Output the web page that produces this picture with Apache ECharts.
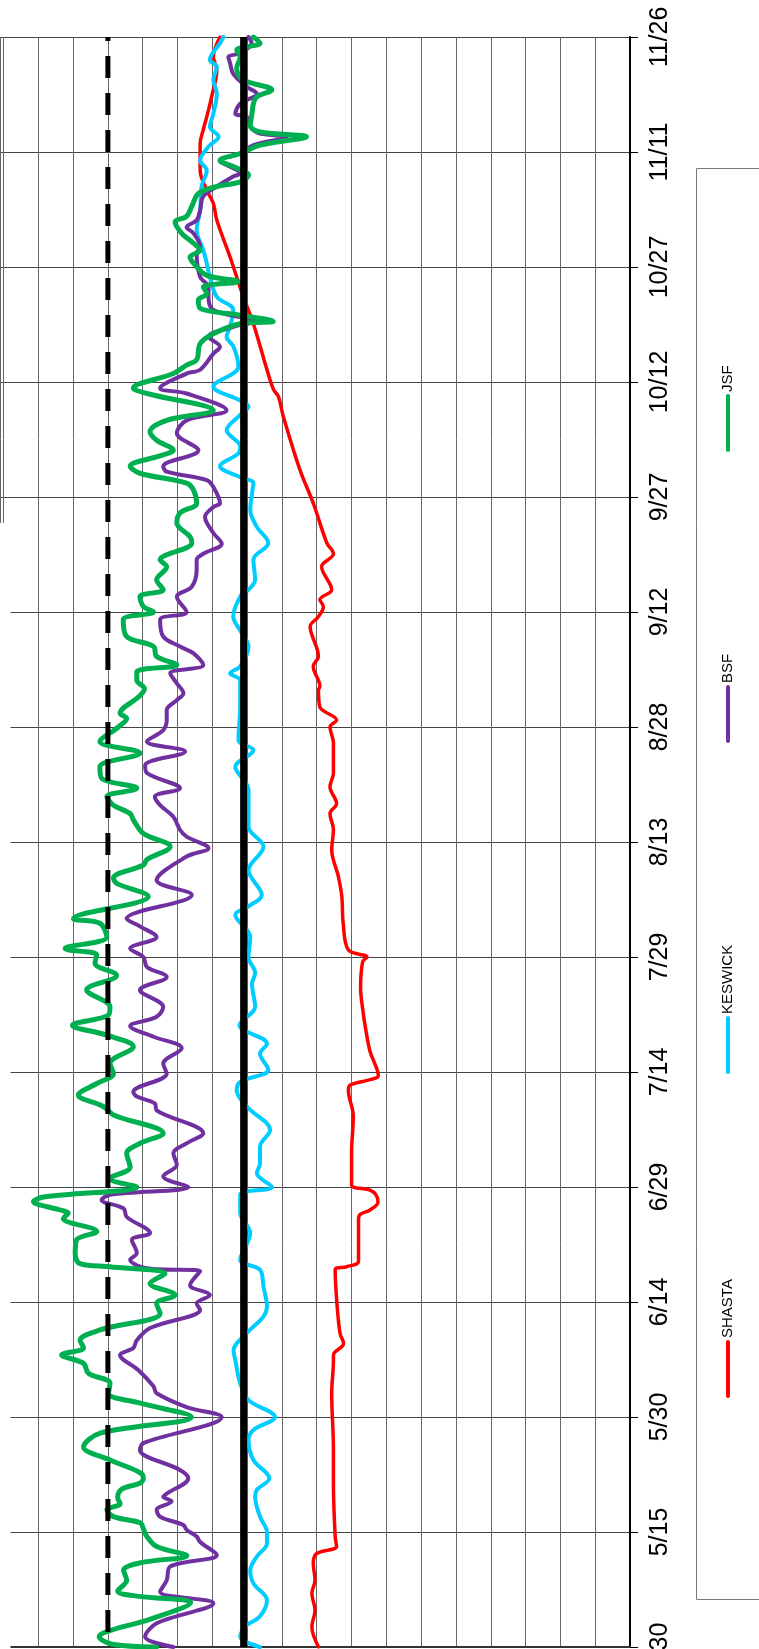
<!DOCTYPE html>
<html><head><meta charset="utf-8">
<script src="https://cdn.jsdelivr.net/npm/echarts@6/dist/echarts.min.js"></script>
<style>html,body{margin:0;padding:0;background:#fff;overflow:hidden;}#c{width:759px;height:1710px;}</style>
</head><body><div id="c"></div><script>
// date tick labels (every 15 days starting 4/30)
const tickLabels = ['4/30','5/15','5/30','6/14','6/29','7/14','7/29','8/13','8/28','9/12','9/27','10/12','10/27','11/11','11/26'];
const seriesNames = ['SHASTA','KESWICK','BSF','JSF'];
const seriesColors = ['#FF0000','#00CCFF','#7030A0','#00B050'];
// [days after 4/30, temperature]
const SHASTA = [[0,53.95],[2.65,54.14],[4.8,54.05],[7,54.14],[8.7,54.05],[10.9,54.1],[12.2,54.0],[13.1,53.43],[14.4,53.47],[21.3,53.52],[25.7,53.52],[33.1,53.57],[37.4,53.52],[38.1,53.52],[39.6,53.23],[40.9,53.33],[44.8,53.42],[49.2,53.47],[49.6,53.14],[50.3,52.8],[55.7,52.8],[56.4,52.76],[57,52.47],[58,52.24],[59,52.3],[59.6,52.47],[60.3,53.0],[64.4,53.0],[69.2,52.95],[72.6,53.09],[73.3,53.04],[74,52.47],[74.5,52.23],[77.7,52.47],[80.5,52.59],[83.2,52.68],[86,52.74],[89.4,52.68],[90,52.56],[90.9,53.09],[94.4,53.24],[97.9,53.28],[100.5,53.38],[104,53.57],[106.6,53.52],[108.7,53.62],[110,53.43],[112.2,53.62],[114,53.52],[117.9,53.52],[120,53.62],[120.9,53.43],[122.6,53.91],[124.8,53.95],[125.3,53.91],[127.9,54.1],[129.2,53.95],[133.1,54.19],[134.4,53.95],[135.7,53.81],[136.6,53.91],[137.9,53.57],[140.9,53.86],[142.6,53.52],[144,53.71],[149.2,54.1],[153.5,54.48],[160.5,54.96],[163.1,55.1],[164,55.24],[166.6,55.43],[172.6,55.82],[176.1,56.11],[181.3,56.49],[186.1,56.87],[188.3,56.97],[189.6,57.11],[192.6,57.35],[196.1,57.35],[197.9,57.26],[199.6,57.16],[202.2,57.02],[205.7,56.87],[207.4,56.97],[210,56.78]];
const KESWICK = [[0,55.63],[1.35,56.2],[2.65,56.06],[4,55.63],[6.1,55.43],[8.3,55.82],[10,55.91],[11.8,55.72],[13.5,55.43],[15,55.43],[17,55.63],[19.6,55.77],[20.5,55.72],[22,55.36],[24.4,55.82],[27,55.96],[28.3,55.82],[30,55.2],[32.2,55.96],[34.4,56.2],[37.4,56.34],[38.7,56.39],[39.6,56.3],[41.4,55.91],[43.1,55.53],[44.4,55.43],[47,55.53],[49.2,55.63],[50.5,56.2],[54,55.91],[56.6,56.2],[59,56.2],[60,55.29],[61.8,55.72],[63.1,55.63],[65.3,55.63],[67.4,55.34],[70.5,56.01],[72.6,56.3],[73.7,56.2],[75.3,55.39],[77.4,55.63],[78.7,55.43],[81.1,56.22],[83.5,55.77],[86.5,55.86],[87.9,55.77],[90,55.96],[92.6,55.91],[95.5,56.34],[96.6,55.96],[98.1,55.58],[101.3,55.96],[104.4,55.53],[107,55.96],[111.8,55.96],[114.8,56.34],[117,55.82],[118.3,56.25],[122.6,56.2],[124,56.2],[126.1,56.2],[127,56.49],[127.9,56.2],[130.5,55.96],[132.6,56.2],[134.4,56.4],[137.4,56.15],[137.9,55.96],[139.2,55.77],[141.8,55.82],[144,55.39],[146.1,55.72],[148.3,55.91],[150.5,55.86],[151.8,55.82],[152.6,56.2],[154,56.78],[155.7,56.25],[156.6,56.2],[158.7,56.59],[160.7,56.2],[161.8,55.96],[162.6,56.2],[164.4,56.97],[167,56.25],[169.6,56.39],[170.9,56.59],[172.2,56.49],[174.4,56.4],[176.1,56.87],[178.7,57.07],[180.5,57.16],[182.2,57.26],[184.8,57.45],[187.4,57.35],[190.5,57.31],[192.6,57.16],[193.9,57.35],[195.7,57.11],[197,56.82],[198.3,57.07],[200,56.97],[202.6,56.87],[204.4,56.97],[206.1,56.87],[207,57.07],[209.2,56.78],[210,56.68]];
const BSF = [[0,58.12],[1.35,58.93],[3.1,58.6],[5.7,56.97],[7.2,58.5],[8.7,58.31],[10.5,58.21],[12,56.87],[13.7,57.35],[14.4,57.45],[15.3,57.74],[15.9,57.83],[17,58.5],[17.9,58.6],[19,58.17],[19.6,58.41],[20,58.31],[22,57.69],[23.1,57.93],[25.7,59.08],[26.6,58.98],[30,56.73],[31.3,57.74],[33.1,58.6],[34,58.69],[36.1,59.12],[38.1,59.65],[39,59.27],[40,59.17],[41.6,58.79],[44,57.35],[44.8,57.45],[45.9,57.07],[47.2,57.64],[49,57.35],[49.4,58.88],[50.5,59.36],[51.4,59.17],[53.1,59.31],[54,58.79],[56.1,59.46],[57.2,59.55],[58.3,60.18],[59,59.94],[60,57.69],[61.4,58.41],[62.9,58.02],[64.4,58.12],[65.7,57.74],[67,57.26],[70,58.6],[70.9,58.65],[71.8,59.17],[72.4,59.27],[74.8,58.31],[76.1,58.41],[78.1,57.88],[79.6,58.69],[81,59.36],[82.2,58.6],[83.5,58.41],[85.7,59.08],[87.4,58.31],[88.7,58.88],[90,58.98],[91.1,59.36],[92.6,58.6],[94,59.08],[95,59.46],[98.1,57.59],[100,58.6],[103.1,57.74],[104.2,57.11],[105.7,57.74],[106.6,57.93],[108.3,58.12],[109.8,58.5],[110.9,58.65],[112,57.93],[114,58.88],[115,58.93],[116.8,57.78],[118.1,58.88],[119.6,58.41],[120.9,58.31],[122.2,58.31],[123.5,58.02],[124.4,57.83],[125.7,58.02],[127,58.21],[128.1,57.26],[129.6,57.54],[130.5,57.93],[131.8,58.41],[134,58.5],[135,57.74],[137,58.02],[138.3,57.59],[140.5,57.45],[141.8,57.45],[142.6,57.26],[143.9,56.73],[145.3,56.97],[147.4,57.21],[148.7,56.97],[149.2,56.78],[151.3,56.97],[152.2,57.16],[153.3,58.31],[154,58.41],[156.1,57.4],[158.3,58.02],[160,57.74],[161.3,56.59],[163.5,57.74],[164.2,58.5],[166.1,57.74],[166.6,57.35],[168.7,56.97],[169.6,56.78],[170.9,57.11],[172.2,56.4],[172.9,55.82],[174.4,56.97],[176.1,57.11],[177.4,57.11],[178.7,57.35],[181.8,57.45],[182.6,57.35],[184.4,57.54],[185.2,57.74],[186.1,57.45],[187.4,57.35],[189.2,57.26],[190.5,56.87],[191.8,56.4],[192.2,56.2],[193.9,56.78],[194.8,56.2],[195.9,55.82],[197,54.86],[197.4,55.63],[198.3,55.91],[199.6,56.01],[200,56.34],[201.3,56.2],[202.6,55.72],[203.5,56.01],[205.2,56.4],[206.6,56.49],[207.4,56.54],[207.9,56.2],[209.2,55.87],[210,55.96]];
const JSF = [[0,58.6],[0.4,59.9],[1.35,60.25],[2.2,59.9],[3.6,58.8],[5.8,57.62],[6.6,59.1],[7.3,59.72],[8.7,59.46],[10,59.55],[11,59.05],[11.9,57.73],[13.1,58.6],[14.4,58.88],[15.4,58.98],[16.2,59.07],[17,59.84],[17.9,60.03],[18.7,59.65],[19.5,59.72],[20.6,59.6],[21.4,59.07],[22.1,58.98],[22.8,59.1],[24.4,59.94],[26.1,60.7],[27.9,60.22],[30,57.6],[31.8,59.07],[33.1,59.98],[34.4,59.94],[35.7,60.56],[37,60.7],[38.1,61.33],[39,60.7],[40,60.8],[41.35,60.23],[43.5,58.5],[44.8,58.6],[45.9,58.07],[47.4,58.79],[48.7,58.36],[49.6,59.94],[50,60.8],[51.3,60.94],[53.1,60.9],[54.2,60.32],[55.9,61.28],[56.6,61.14],[57,61.37],[58.1,62.14],[58.7,61.85],[60,59.17],[61.1,59.94],[62.6,59.36],[64.4,59.46],[65.7,59.07],[67,58.41],[69.4,59.84],[70.5,60.13],[72,60.85],[73.5,60.32],[74.8,59.84],[76.1,59.94],[78.3,59.27],[79.8,60.03],[81.1,61.02],[82.4,59.99],[83.5,59.94],[85.7,60.61],[87.6,59.75],[89.2,60.37],[90.3,60.32],[91.1,61.23],[92.6,60.03],[94.4,60.23],[95,60.99],[97.9,58.84],[99.6,59.75],[100.3,59.84],[102,58.98],[102.7,58.88],[104.4,58.21],[106.1,58.98],[107.9,59.27],[108.7,59.36],[109.8,59.84],[110.9,60.03],[112,59.17],[113.3,60.18],[114.8,60.23],[116.6,59.08],[118.1,60.23],[120,59.7],[121.1,59.46],[121.8,59.65],[124,59.1],[125,58.95],[126.1,59.17],[127.2,59.17],[128.1,58.02],[129.2,58.6],[130.5,58.69],[131.8,59.46],[134,59.56],[135,58.69],[135.7,58.98],[137,59.08],[137.9,58.41],[139.2,58.6],[140.9,58.31],[141.8,58.5],[144,57.59],[144.8,57.64],[146.6,58.02],[147.9,57.93],[149.2,57.45],[150.9,57.54],[151.8,57.74],[153.1,59.08],[154,59.36],[155.5,58.41],[156.1,58.12],[157.4,58.6],[158.5,58.79],[160,58.31],[161.3,56.97],[163.5,58.88],[164.2,59.27],[166.1,58.12],[167.2,57.74],[167.9,57.45],[170,57.35],[171.3,56.97],[172.6,56.2],[172.9,55.25],[173.7,56.2],[174.6,57.35],[175.7,57.4],[176.5,57.16],[177.4,57.26],[178.1,56.25],[178.9,57.16],[180.5,57.54],[181.3,57.64],[182.2,57.35],[183.1,57.54],[184.4,57.88],[185.9,58.07],[186.6,57.74],[187.9,57.59],[189.6,57.4],[190.5,56.87],[191.1,56.2],[192,55.96],[193.1,56.4],[193.9,56.78],[194.8,56.2],[195.9,55.63],[197,54.29],[197.6,55.63],[198.5,55.91],[200,55.86],[201.3,55.82],[202.2,55.72],[203.1,55.29],[204.4,56.11],[205.9,56.3],[207.4,56.2],[208.3,56.3],[209.2,55.63],[210,55.82]];
const criticalTemp = 56.1;
const upperTemp = 60;
const dayRange = [0, 210];
const tempRange = [45, 63.1];

const seriesData = [SHASTA, KESWICK, BSF, JSF];
const widths = [3.5, 4, 4, 5];
const chart = echarts.init(document.getElementById('c'));
const series = seriesData.map((d, i) => ({
  name: seriesNames[i], type: 'line', data: d.map(p => [p[1], p[0]]),
  showSymbol: false, smooth: 0.35, z: 2 + i,
  lineStyle: { color: seriesColors[i], width: widths[i], cap: 'round', join: 'round' },
  itemStyle: { color: seriesColors[i] }
}));
series.push({ type: 'line', data: [[criticalTemp, dayRange[1]], [criticalTemp, dayRange[0]]], showSymbol: false, z: 10,
  lineStyle: { color: '#000', width: 7 } });
series.push({ type: 'line', data: [[upperTemp, dayRange[1]], [upperTemp, dayRange[0]]], showSymbol: false, z: 10,
  lineStyle: { color: '#000', width: 5, type: [22, 15], dashOffset: 18 } });

// legend (rotated) drawn as graphic
const legendPos = [1396, 1072, 741, 450];
const legendGraphics = [
  { type: 'rect', shape: { x: 0, y: 523, width: 10.5, height: 1200 }, style: { fill: '#fff' }, z: 1 },
  { type: 'rect', shape: { x: 696.5, y: 168.5, width: 80, height: 1431 }, style: { fill: '#fff', stroke: '#777', lineWidth: 1 }, z: 1 }];
seriesNames.forEach((n, i) => {
  const yb = legendPos[i];
  legendGraphics.push({ type: 'line', shape: { x1: 728, y1: yb, x2: 728, y2: yb - 54 }, style: { stroke: seriesColors[i], lineWidth: 4, lineCap: 'round' }, z: 2 });
  legendGraphics.push({ type: 'text', x: 728, y: yb - 58, rotation: Math.PI / 2, style: { text: n, fill: '#000', font: '15px "Liberation Sans", Arial, sans-serif', textAlign: 'left', textVerticalAlign: 'middle' }, z: 2 });
});

const xBase = { type: 'value', inverse: true, min: tempRange[0], max: tempRange[1], interval: 1,
  axisLabel: { show: false }, axisTick: { show: false } };
chart.setOption({
  animation: false,
  backgroundColor: '#fff',
  grid: { left: 0, right: 129, top: 37, bottom: 63, show: false },
  xAxis: [
    Object.assign({}, xBase, { position: 'top',
      axisLine: { show: true, lineStyle: { color: '#8c8c8c', width: 2 } },
      splitLine: { show: true, lineStyle: { color: '#666', width: 1 } } }),
    Object.assign({}, xBase, { position: 'bottom',
      axisLine: { show: true, lineStyle: { color: '#333', width: 2 } },
      splitLine: { show: false } })
  ],
  yAxis: { type: 'value', min: dayRange[0], max: dayRange[1], interval: 15, position: 'right',
    axisLine: { show: true, lineStyle: { color: '#000', width: 2 } },
    axisTick: { show: true, inside: false, length: 8, lineStyle: { color: '#000', width: 1 } },
    splitLine: { show: true, lineStyle: { color: '#444', width: 1 } },
    axisLabel: { rotate: 90, margin: 18, fontSize: 25, color: '#000', fontFamily: '"Liberation Sans", Arial, sans-serif',
      formatter: v => tickLabels[Math.round(v / 15)] } },
  series: series,
  graphic: legendGraphics
});
</script></body></html>
